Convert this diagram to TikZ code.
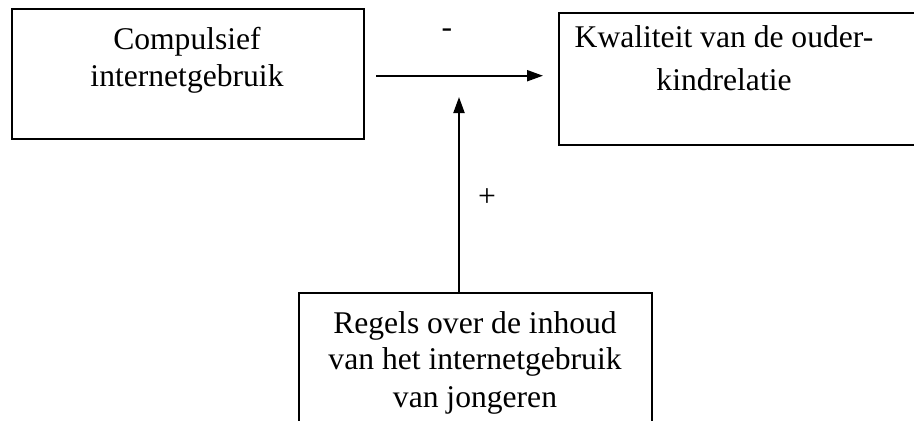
\documentclass[tikz,border=0pt]{standalone}
\usepackage{fontspec}
\setmainfont{Liberation Serif}
\usetikzlibrary{arrows.meta}
\begin{document}
\begin{tikzpicture}[x=0.5pt,y=-0.5pt,
  box/.style={draw=black,line width=1pt,minimum width=0pt,minimum height=0pt,inner sep=0pt,anchor=north west},
  openbox/.style={line width=1pt,draw=black},
  lbl/.style={font=\fontsize{15.8pt}{18pt}\selectfont,anchor=base,inner sep=0pt},
  arr/.style={line width=1pt,-{Triangle[length=8pt,width=5.5pt]}}]
\useasboundingbox (0,0) rectangle (914,420);
\node[box,minimum width=176pt,minimum height=65pt] (b1) at (11,8) {};
\node[inner sep=0pt,minimum width=177.5pt,minimum height=65.5pt,anchor=north west] (b2) at (559,13) {};
\draw[openbox] (b2.north east) -- (b2.north west) -- (b2.south west) -- (b2.south east);
\node[inner sep=0pt,minimum width=176pt,minimum height=63.5pt,anchor=north west] (b3) at (299,293) {};
\draw[openbox] (b3.south west) -- (b3.north west) -- (b3.north east) -- (b3.south east);
\node[lbl] (t1a) at (187,49) {Compulsief};
\node[lbl] (t1b) at (187,86) {internetgebruik};
\node[lbl] (t2a) at (724,47) {Kwaliteit van de ouder-};
\node[lbl] (t2b) at (724,90) {kindrelatie};
\node[lbl] (t3a) at (475,333) {Regels over de inhoud};
\node[lbl] (t3b) at (475,369) {van het internetgebruik};
\node[lbl] (t3c) at (475,407) {van jongeren};
\coordinate (hs) at (376,75.7);
\coordinate (he) at (543,75.7);
\coordinate (vt) at (459,97);
\draw[arr] (hs) -- (he);
\draw[arr] (b3.north -| vt) -- (vt);
\node[lbl,anchor=center] (minus) at (447,33) {-};
\node[lbl,anchor=center] (plus) at (487,198) {+};
\end{tikzpicture}
\end{document}
